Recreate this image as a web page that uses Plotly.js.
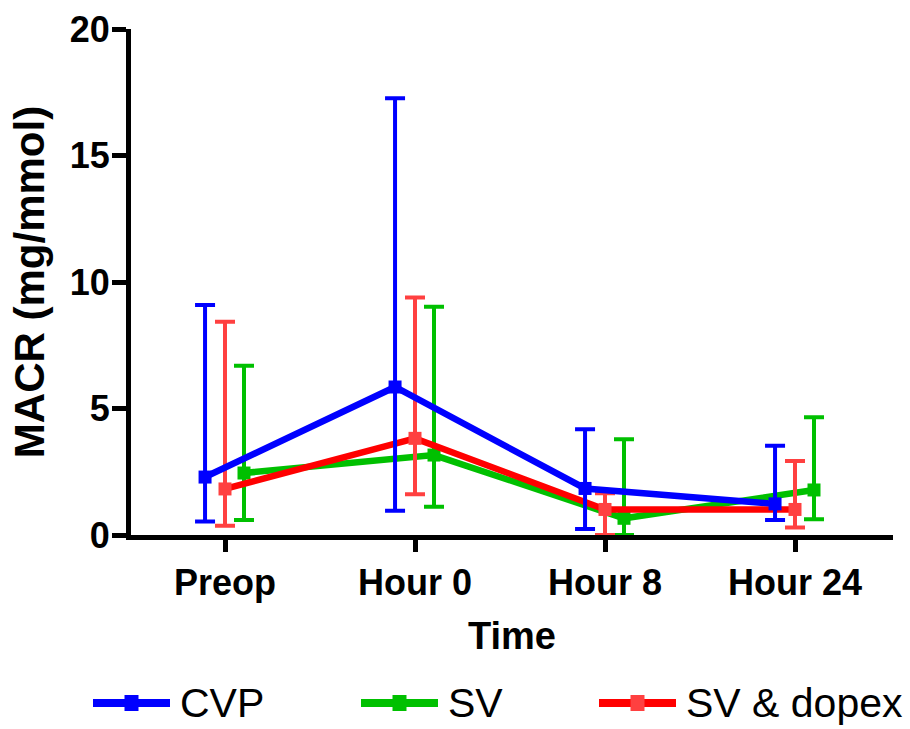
<!DOCTYPE html>
<html>
<head>
<meta charset="utf-8">
<script src="https://cdn.plot.ly/plotly-3.0.1.min.js"></script>
<style>
  html, body { margin: 0; padding: 0; background: #ffffff; }
  #chart { width: 910px; height: 729px; }
</style>
</head>
<body>
<div id="chart"></div>
<script>
// Time points on the x axis
const timepoints = ["Preop", "Hour 0", "Hour 8", "Hour 24"];

// Median MACR (mg/mmol) per group, with lower / upper whisker ends
const cvpMedian = [2.29, 5.85, 1.84, 1.23];
const cvpLow    = [0.53, 0.96, 0.24, 0.59];
const cvpHigh   = [9.09, 17.26, 4.18, 3.53];

const svMedian  = [2.45, 3.16, 0.66, 1.78];
const svLow     = [0.59, 1.12, 0.00, 0.62];
const svHigh    = [6.69, 9.02, 3.78, 4.65];

const dopMedian = [1.82, 3.82, 1.01, 1.01];
const dopLow    = [0.37, 1.61, 0.00, 0.30];
const dopHigh   = [8.43, 9.39, 1.65, 2.92];

const groupNames = ["CVP", "SV", "SV & dopex"];

const FONT = "Liberation Sans, Arial, Helvetica, sans-serif";

// Plot-area pixel geometry (also used to place the hand-built legend)
const PLOT = { left: 131, right: 893, top: 29, bottom: 535, W: 910, H: 729 };

function groupTrace(name, offset, med, lo, hi, lineColor, markColor) {
  const x = med.map((_, i) => i + offset);
  return {
    type: "scatter",
    mode: "lines+markers",
    name: name,
    x: x,
    y: med,
    showlegend: false,
    cliponaxis: true,
    line: { color: lineColor, width: 6.5 },
    marker: { symbol: "square", size: 13, color: markColor, line: { width: 0 } },
    error_y: {
      type: "data",
      symmetric: false,
      array: hi.map((v, i) => v - med[i]),
      arrayminus: med.map((v, i) => v - lo[i]),
      color: markColor,
      thickness: 4,
      width: 10
    },
    hoverinfo: "x+y+name"
  };
}

const styles = {
  "CVP":        { line: "#0000ff", mark: "#0000ff", offset: -0.105 },
  "SV":         { line: "#00c000", mark: "#00c000", offset: 0.1 },
  "SV & dopex": { line: "#ff0000", mark: "#ff4040", offset: 0.0 }
};

// Drawn back to front: SV, SV & dopex, then CVP on top
const traces = [
  groupTrace("SV", styles["SV"].offset, svMedian, svLow, svHigh, styles["SV"].line, styles["SV"].mark),
  groupTrace("SV & dopex", styles["SV & dopex"].offset, dopMedian, dopLow, dopHigh, styles["SV & dopex"].line, styles["SV & dopex"].mark),
  groupTrace("CVP", styles["CVP"].offset, cvpMedian, cvpLow, cvpHigh, styles["CVP"].line, styles["CVP"].mark)
];

// Legend row below the axis: long line key with a square, then the label
const pw = PLOT.right - PLOT.left, ph = PLOT.bottom - PLOT.top;
const px = v => (v - PLOT.left) / pw;
const py = v => (PLOT.bottom - v) / ph;
const legendStarts = [93, 361, 599];
const legendY = 703;
const keyLen = 77;
const shapes = [], annotations = [];
groupNames.forEach((n, k) => {
  const s = styles[n], x0 = legendStarts[k];
  shapes.push({ type: "line", xref: "paper", yref: "paper",
    x0: px(x0), x1: px(x0 + keyLen), y0: py(legendY), y1: py(legendY),
    line: { color: s.line, width: 8 } });
  shapes.push({ type: "rect", xref: "paper", yref: "paper",
    x0: px(x0 + keyLen / 2 - 7), x1: px(x0 + keyLen / 2 + 7),
    y0: py(legendY + 8), y1: py(legendY - 8),
    fillcolor: s.mark, line: { width: 0 } });
  annotations.push({ xref: "paper", yref: "paper", x: px(x0 + keyLen + 8), y: py(legendY),
    xanchor: "left", yanchor: "middle", text: n, showarrow: false,
    font: { family: FONT, size: 41, color: "#000000" } });
});

// Category centres sit 190 px apart, the first one at x = 225 px
const xMin = (PLOT.left - 225) / 190, xMax = (PLOT.right - 225) / 190;

const layout = {
  width: PLOT.W, height: PLOT.H,
  margin: { l: PLOT.left, r: PLOT.W - PLOT.right, t: PLOT.top, b: PLOT.H - PLOT.bottom, pad: 0 },
  paper_bgcolor: "#ffffff",
  plot_bgcolor: "#ffffff",
  showlegend: false,
  xaxis: {
    range: [xMin, xMax],
    tickmode: "array",
    tickvals: [0, 1, 2, 3],
    ticktext: timepoints,
    showgrid: false, zeroline: false,
    showline: true, linecolor: "#000000", linewidth: 5,
    ticks: "outside", ticklen: 12, tickwidth: 5, tickcolor: "#000000",
    tickfont: { family: FONT, size: 36, color: "#000000", weight: "bold" },
    title: { text: "<b>Time</b>", font: { family: FONT, size: 38, color: "#000000" }, standoff: 22 },
    fixedrange: true
  },
  yaxis: {
    range: [0, 20],
    tickvals: [0, 5, 10, 15, 20],
    showgrid: false, zeroline: false,
    showline: true, linecolor: "#000000", linewidth: 5,
    ticks: "outside", ticklen: 14, tickwidth: 5, tickcolor: "#000000",
    ticklabelstandoff: -5,
    tickfont: { family: FONT, size: 36, color: "#000000", weight: "bold" },
    title: { text: "<b>MACR (mg/mmol)</b>", font: { family: FONT, size: 42, color: "#000000" }, standoff: 14 },
    fixedrange: true
  },
  shapes: shapes,
  annotations: annotations
};

Plotly.newPlot("chart", traces, layout, { displayModeBar: false, staticPlot: true });
</script>
</body>
</html>
